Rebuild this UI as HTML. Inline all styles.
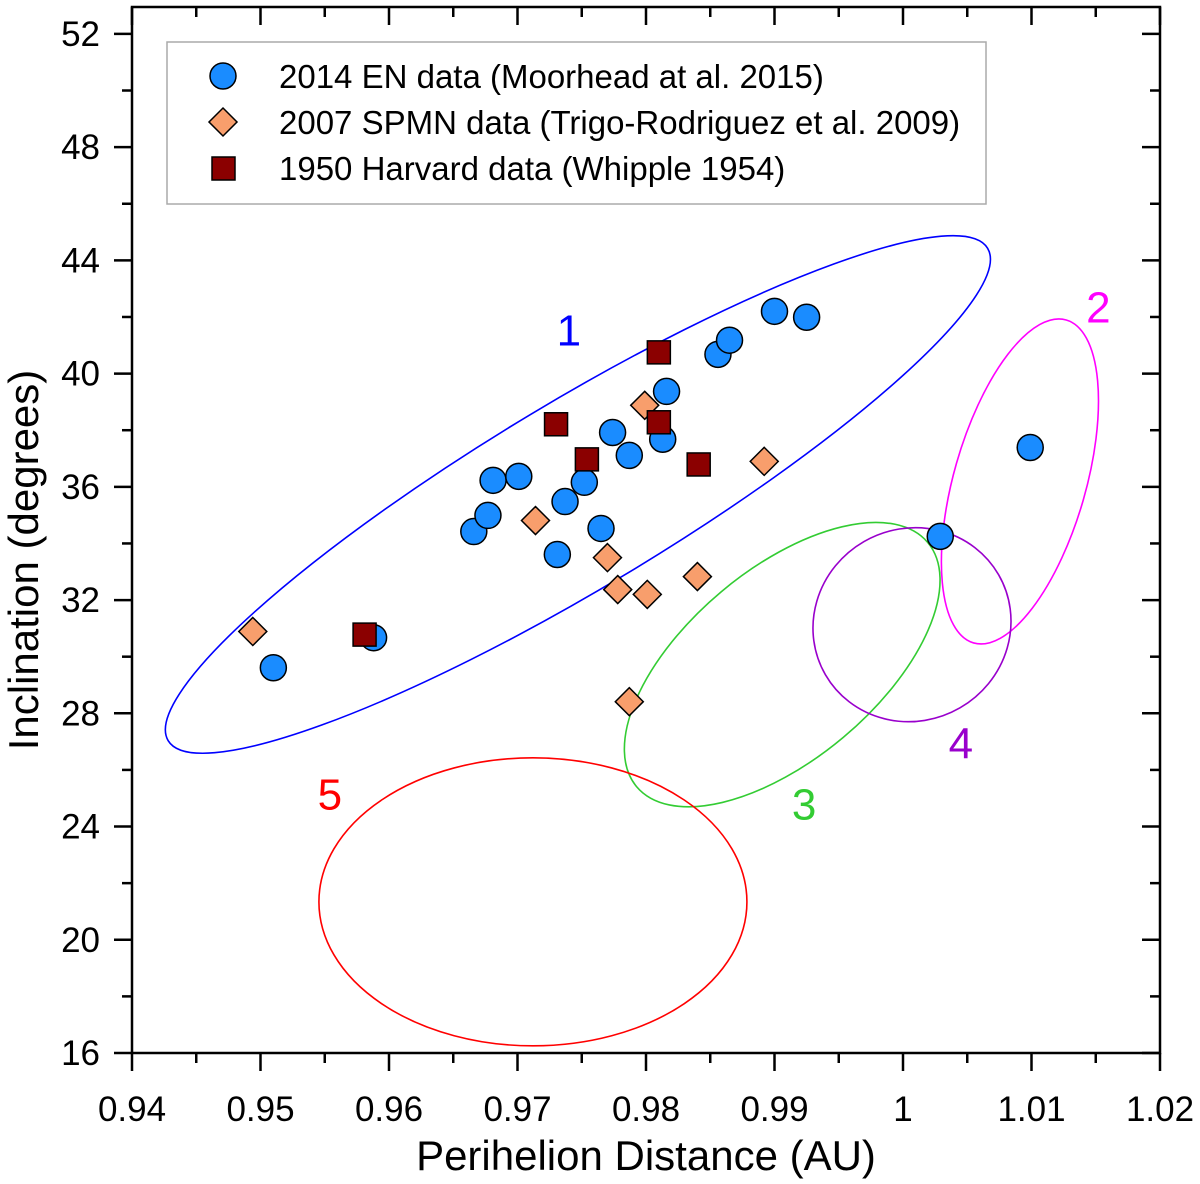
<!DOCTYPE html>
<html><head><meta charset="utf-8"><style>
html,body{margin:0;padding:0;background:#fff;}
svg{display:block;font-family:"Liberation Sans",Arial,sans-serif;}
</style></head><body>
<svg id="chart" width="1200" height="1184" viewBox="0 0 1200 1184" xmlns="http://www.w3.org/2000/svg">
<g id="ellipses"></g>
<g id="marks"></g>
<g id="axes"></g>
<g id="legend">
<rect x="167" y="42" width="819" height="162" fill="#fff" stroke="#aaa" stroke-width="1.5"/>
<circle cx="223" cy="76" r="13" fill="#1a8cff" stroke="#000" stroke-width="1.5"/>
<text x="279" y="88" font-size="33">2014 EN data (Moorhead at al. 2015)</text>
<polygon points="223,108 237,122 223,136 209,122" fill="#f89e6c" stroke="#000" stroke-width="1.5"/>
<text x="279" y="134" font-size="33">2007 SPMN data (Trigo-Rodriguez et al. 2009)</text>
<rect x="212" y="157" width="23" height="23" fill="#8b0000" stroke="#000" stroke-width="1.5"/>
<text x="279" y="180" font-size="33">1950 Harvard data (Whipple 1954)</text>
</g>
</svg>
<script>
const xTicks=[0.94,0.95,0.96,0.97,0.98,0.99,1.00,1.01,1.02];
const xTickLabels=["0.94","0.95","0.96","0.97","0.98","0.99","1","1.01","1.02"];
const yTicks=[16,20,24,28,32,36,40,44,48,52];
const enX=[0.9510,0.9588,0.9666,0.9677,0.9681,0.9701,0.9737,0.9731,0.9752,0.9765,0.9774,0.9787,0.9813,0.9816,0.9856,0.9865,0.9900,0.9925,1.0029,1.0099];
const enY=[29.61,30.67,34.42,34.99,36.23,36.37,35.48,33.61,36.16,34.53,37.92,37.11,37.68,39.37,40.68,41.18,42.20,41.99,34.25,37.39];
const spX=[0.9494,0.9714,0.9799,0.9770,0.9778,0.9801,0.9840,0.9892,0.9787];
const spY=[30.89,34.81,38.88,33.50,32.37,32.20,32.83,36.90,28.41];
const hvX=[0.9581,0.9730,0.9754,0.9810,0.9810,0.9841];
const hvY=[30.78,38.21,36.97,40.75,38.28,36.79];
const ellLabels=["1","2","3","4","5"];
const ellCX=[0.9747,1.0091,0.9906,1.0007,0.9712];
const ellCY=[35.73,36.19,29.72,31.13,21.34];
const ellLabelX=[0.9740,1.0152,0.9923,1.0045,0.9554];
const ellLabelY=[41.0,41.8,24.25,26.4,24.6];
const ellRX=[478,66,190,100,214];
const ellRY=[93,168,95,96,144];
const ellRot=[-31,16,-40,-30,0];
const ellColor=["#0000ff","#ff00ff","#33cc33","#9900cc","#ff0000"];

const L=132,R=1160,T=7,B=1053;
const X0=0.94,X1=1.02,Y0=16,Y1=52.95;
const sx=v=>L+(v-X0)/(X1-X0)*(R-L);
const sy=v=>B-(v-Y0)/(Y1-Y0)*(B-T);
const NS="http://www.w3.org/2000/svg";
function mk(tag,parent,attrs){const e=document.createElementNS(NS,tag);for(const k in attrs)e.setAttribute(k,attrs[k]);parent.appendChild(e);return e;}
const gE=document.getElementById('ellipses'),gM=document.getElementById('marks'),gA=document.getElementById('axes');

for(let i=0;i<ellCX.length;i++){
  const cx=sx(ellCX[i]),cy=sy(ellCY[i]);
  const e=mk('ellipse',gE,{cx:cx,cy:cy,rx:ellRX[i],ry:ellRY[i],transform:`rotate(${ellRot[i]} ${cx} ${cy})`,fill:'none',stroke:ellColor[i],'stroke-width':1.6});
  
  
  const t=mk('text',gE,{x:sx(ellLabelX[i]),y:sy(ellLabelY[i]),'font-size':44,fill:ellColor[i],'text-anchor':'middle'});
  t.textContent=ellLabels[i];
  
  
}
for(let i=0;i<spX.length;i++){
  const x=sx(spX[i]),y=sy(spY[i]);
  const p=mk('polygon',gM,{points:`${x},${y-14} ${x+14},${y} ${x},${y+14} ${x-14},${y}`,fill:'#f89e6c',stroke:'#000','stroke-width':1.5});
  
  
}
for(let i=0;i<enX.length;i++){
  const c=mk('circle',gM,{cx:sx(enX[i]),cy:sy(enY[i]),r:13,fill:'#1a8cff',stroke:'#000','stroke-width':1.5});
  
  
}
for(let i=0;i<hvX.length;i++){
  const r=mk('rect',gM,{x:sx(hvX[i])-11.5,y:sy(hvY[i])-11.5,width:23,height:23,fill:'#8b0000',stroke:'#000','stroke-width':1.5});
  
  
}
const frame=mk('rect',gA,{x:L,y:T,width:R-L,height:B-T,fill:'none',stroke:'#000','stroke-width':2.5});


const st={stroke:'#000','stroke-width':2.5};
for(let i=0;i<xTicks.length;i++){
  const x=sx(xTicks[i]);
  mk('line',gA,Object.assign({x1:x,x2:x,y1:B,y2:B+18},st));
  mk('line',gA,Object.assign({x1:x,x2:x,y1:T,y2:T+18},st));
  if(i<xTicks.length-1){const xm=sx((xTicks[i]+xTicks[i+1])/2);
    mk('line',gA,Object.assign({x1:xm,x2:xm,y1:B,y2:B+10},st));
    mk('line',gA,Object.assign({x1:xm,x2:xm,y1:T,y2:T+10},st));}
  const t=mk('text',gA,{x:x,y:1121,'font-size':35,'text-anchor':'middle'});
  t.textContent=xTickLabels[i];
  
  
}
for(let i=0;i<yTicks.length;i++){
  const y=sy(yTicks[i]);
  mk('line',gA,Object.assign({x1:L-18,x2:L,y1:y,y2:y},st));
  mk('line',gA,Object.assign({x1:R-18,x2:R,y1:y,y2:y},st));
  const ym=sy(yTicks[i]+2);
  if(ym>T){mk('line',gA,Object.assign({x1:L-10,x2:L,y1:ym,y2:ym},st));
    mk('line',gA,Object.assign({x1:R-10,x2:R,y1:ym,y2:ym},st));}
  const t=mk('text',gA,{x:100,y:y+12,'font-size':35,'text-anchor':'end'});
  t.textContent=String(yTicks[i]);
  
  
}
const xt=mk('text',gA,{x:646,y:1170,'font-size':42,'text-anchor':'middle'});
xt.textContent='Perihelion Distance (AU)';


const yt=mk('text',gA,{x:38,y:560,'font-size':42,'text-anchor':'middle',transform:'rotate(-90 38 560)'});
yt.textContent='Inclination (degrees)';


</script>
</body></html>
